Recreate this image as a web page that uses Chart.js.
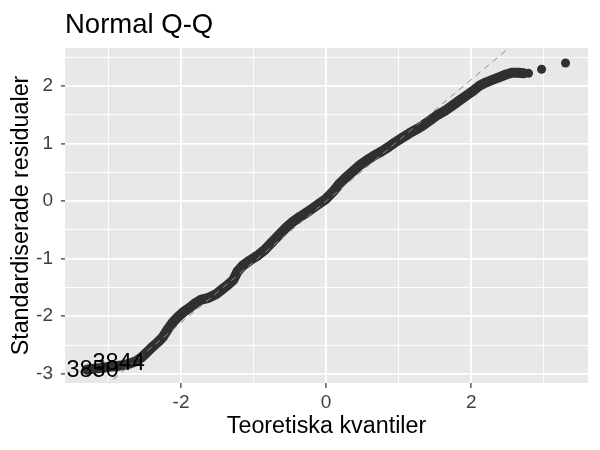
<!DOCTYPE html>
<html>
<head>
<meta charset="utf-8">
<script src="https://cdn.jsdelivr.net/npm/chart.js@4.4.1/dist/chart.umd.min.js"></script>
<style>
  html, body { margin: 0; padding: 0; background: #ffffff; }
  #wrap { width: 600px; height: 450px; }
</style>
</head>
<body>
<div id="wrap"><canvas id="c" width="600" height="450"></canvas></div>
<script>
// ---- data ----
const bandX = [-3.30, -3.20, -3.10, -3.00, -2.90, -2.80, -2.70, -2.62, -2.55, -2.48,
  -2.40, -2.32, -2.25, -2.18, -2.11, -2.04, -1.97, -1.88, -1.80, -1.72,
  -1.62, -1.52, -1.44, -1.36, -1.28, -1.22, -1.15, -1.05, -0.95, -0.85,
  -0.75, -0.65, -0.55, -0.46, -0.36, -0.27, -0.18, -0.09, 0.00, 0.10,
  0.19, 0.28, 0.37, 0.47, 0.56, 0.66, 0.76, 0.86, 0.95, 1.05,
  1.15, 1.25, 1.34, 1.44, 1.54, 1.64, 1.74, 1.84, 1.94, 2.03,
  2.12, 2.20, 2.30, 2.40, 2.48, 2.56, 2.65, 2.72];
const bandY = [-2.93, -2.91, -2.90, -2.88, -2.87, -2.85, -2.82, -2.78, -2.72, -2.64,
  -2.54, -2.45, -2.36, -2.22, -2.10, -2.01, -1.93, -1.85, -1.77, -1.71,
  -1.68, -1.62, -1.54, -1.46, -1.37, -1.22, -1.12, -1.03, -0.95, -0.85,
  -0.72, -0.59, -0.46, -0.36, -0.27, -0.20, -0.12, -0.04, 0.04, 0.17,
  0.31, 0.42, 0.52, 0.63, 0.71, 0.79, 0.86, 0.94, 1.02, 1.10,
  1.18, 1.25, 1.32, 1.41, 1.50, 1.57, 1.66, 1.75, 1.84, 1.92,
  2.01, 2.06, 2.11, 2.16, 2.20, 2.23, 2.23, 2.22];
const tailX = [2.79, 2.97, 3.30];
const tailY = [2.22, 2.29, 2.40];
const refLineX = [-3.40, 2.70];
const refLineY = [-3.59, 2.85];
const labelText = ["3850", "3844"];
const labelX = [-3.22, -2.86];
const labelY = [-2.95, -2.82];
const xTickValues = [-3, -2, -1, 0, 1, 2, 3];
const xTickLabels = ["", "-2", "", "0", "", "2", ""];
const yTickValues = [-3, -2.5, -2, -1.5, -1, -0.5, 0, 0.5, 1, 1.5, 2, 2.5];
const yTickLabels = ["-3", "", "-2", "", "-1", "", "0", "", "1", "", "2", ""];
const titleText = "Normal Q-Q";
const xTitle = "Teoretiska kvantiler";
const yTitle = "Standardiserade residualer";

const FONT = "'Liberation Sans', Arial, Helvetica, sans-serif";
const pointCol = "#303030";

const toPts = (xs, ys) => xs.map((x, i) => ({ x: x, y: ys[i] }));

const isMajor = (v, arr, labels) => {
  const i = arr.indexOf(v);
  return i >= 0 && labels[i] !== "";
};

const panelBg = {
  id: "panelBg",
  beforeDraw(chart) {
    const { ctx, chartArea: a } = chart;
    ctx.save();
    ctx.fillStyle = "#e8e8e8";
    ctx.fillRect(a.left, a.top, a.right - a.left, a.bottom - a.top);
    ctx.restore();
  }
};

const textLayer = {
  id: "textLayer",
  afterDatasetsDraw(chart) {
    const { ctx, scales } = chart;
    ctx.save();
    ctx.fillStyle = "#000000";
    ctx.font = "23.5px " + FONT;
    ctx.textAlign = "center";
    ctx.textBaseline = "middle";
    labelText.forEach((t, i) => {
      ctx.fillText(t, scales.x.getPixelForValue(labelX[i]), scales.y.getPixelForValue(labelY[i]));
    });
    ctx.restore();
  },
  afterDraw(chart) {
    const ctx = chart.ctx;
    ctx.save();
    ctx.fillStyle = "#000000";
    ctx.font = "27.5px " + FONT;
    ctx.textAlign = "left";
    ctx.textBaseline = "alphabetic";
    ctx.fillText(titleText, 65, 33);
    ctx.restore();
  }
};

new Chart(document.getElementById("c"), {
  data: {
    datasets: [
      {
        type: "line",
        data: toPts(refLineX, refLineY),
        borderColor: "#8a8a8a",
        borderWidth: 1,
        borderDash: [6, 5],
        pointRadius: 0,
        fill: false,
        order: 0
      },
      {
        type: "scatter",
        data: toPts(bandX, bandY),
        showLine: true,
        borderColor: pointCol,
        borderWidth: 10,
        borderJoinStyle: "round",
        borderCapStyle: "round",
        pointRadius: 4.5,
        pointBackgroundColor: pointCol,
        pointBorderColor: pointCol,
        pointBorderWidth: 0,
        order: 1
      },
      {
        type: "scatter",
        data: toPts(tailX, tailY),
        pointRadius: 4.5,
        pointBackgroundColor: pointCol,
        pointBorderColor: pointCol,
        pointBorderWidth: 0,
        order: 1
      }
    ]
  },
  options: {
    responsive: false,
    animation: false,
    devicePixelRatio: 1,
    layout: { padding: { top: 48, right: 12, left: 0, bottom: 0 } },
    plugins: { legend: { display: false }, tooltip: { enabled: false }, title: { display: false } },
    scales: {
      x: {
        type: "linear",
        position: "bottom",
        min: -3.6,
        max: 3.61,
        afterFit(s) { s.height = 67; },
        afterBuildTicks(s) { s.ticks = xTickValues.map(v => ({ value: v })); },
        border: { display: false },
        grid: {
          color: "#ffffff",
          lineWidth: c => (c.tick && isMajor(c.tick.value, xTickValues, xTickLabels)) ? 1.8 : 0.9,
          drawTicks: true,
          tickLength: 5,
          tickWidth: 1.2,
          tickColor: c => (c.tick && isMajor(c.tick.value, xTickValues, xTickLabels)) ? "#333333" : "rgba(0,0,0,0)"
        },
        ticks: {
          autoSkip: false,
          maxRotation: 0,
          padding: 3,
          color: "#3f3f3f",
          font: { size: 19, family: FONT },
          callback: (v) => { const i = xTickValues.indexOf(v); return i >= 0 ? xTickLabels[i] : ""; }
        },
        title: {
          display: true,
          text: xTitle,
          color: "#000000",
          font: { size: 23.3, family: FONT },
          padding: { top: 0, bottom: 9 }
        }
      },
      y: {
        type: "linear",
        position: "left",
        min: -3.16,
        max: 2.66,
        afterFit(s) { s.width = 65; },
        afterBuildTicks(s) { s.ticks = yTickValues.map(v => ({ value: v })); },
        border: { display: false },
        grid: {
          color: "#ffffff",
          lineWidth: c => (c.tick && isMajor(c.tick.value, yTickValues, yTickLabels)) ? 1.8 : 0.9,
          drawTicks: true,
          tickLength: 4,
          tickWidth: 1.2,
          tickColor: c => (c.tick && isMajor(c.tick.value, yTickValues, yTickLabels)) ? "#333333" : "rgba(0,0,0,0)"
        },
        ticks: {
          autoSkip: false,
          padding: 8,
          color: "#3f3f3f",
          font: { size: 19, family: FONT },
          callback: (v) => { const i = yTickValues.indexOf(v); return i >= 0 ? yTickLabels[i] : ""; }
        },
        title: {
          display: true,
          text: yTitle,
          color: "#000000",
          font: { size: 23.3, family: FONT },
          padding: { top: 8, bottom: 0 }
        }
      }
    }
  },
  plugins: [panelBg, textLayer]
});
</script>
</body>
</html>
